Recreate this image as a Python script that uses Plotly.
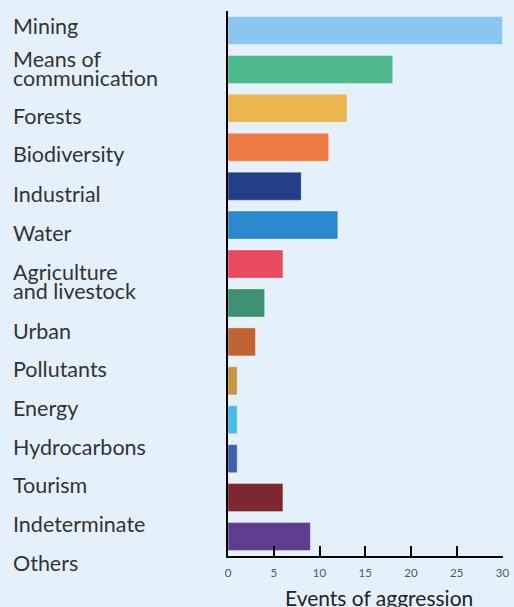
import plotly.graph_objects as go

categories = ["Mining", "Means of communication", "Forests", "Biodiversity", "Industrial",
              "Water", "Agriculture and livestock", "Urban", "Pollutants", "Energy",
              "Hydrocarbons", "Tourism", "Indeterminate", "Others"]
label_lines = [["Mining"], ["Means of", "communication"], ["Forests"], ["Biodiversity"],
               ["Industrial"], ["Water"], ["Agriculture", "and livestock"], ["Urban"],
               ["Pollutants"], ["Energy"], ["Hydrocarbons"], ["Tourism"],
               ["Indeterminate"], ["Others"]]
values = [30, 18, 13, 11, 8, 12, 6, 4, 3, 1, 1, 1, 6, 9]
colors = ["#8AC6F0", "#4FB98E", "#EBB54F", "#EC7A42", "#213E86", "#2A88CF", "#E9495F",
          "#3F9072", "#C06433", "#C4963E", "#45BCEB", "#3A60AE", "#7D2730", "#5C3D8E"]
x_ticks = [0, 5, 10, 15, 20, 25, 30]

# vertical offset (px, downward) of each label block relative to its bar centre
label_offsets = [-4, -1, 7.5, 7, 7.5, 7.5, 17.5, 28, 27, 27, 27, 26.5, 26.5, 26.5]
LINE_PITCH = 18.5

BG = "#E4F1FB"
FONT = "Lato, 'Open Sans', sans-serif"

fig = go.Figure(go.Bar(
    x=values, y=categories, orientation="h",
    marker=dict(color=colors, line=dict(width=1, color="rgba(255,255,255,0.35)")),
    hoverinfo="x+y",
))

annotations = []
for cat, lines, off in zip(categories, label_lines, label_offsets):
    n = len(lines)
    for i, line in enumerate(lines):
        dy = off + (i - (n - 1) / 2) * LINE_PITCH
        annotations.append(dict(
            x=0, xref="paper", xanchor="left", xshift=-216,
            y=cat, yref="y", yanchor="middle", yshift=-dy,
            text=line, showarrow=False, borderpad=0,
            font=dict(family=FONT, size=21.5, color="#333333"),
        ))

annotations.append(dict(
    x=0.5, xref="paper", xanchor="center", xshift=13,
    y=0, yref="paper", yanchor="middle", yshift=-41,
    text="Events of aggression", showarrow=False, borderpad=0,
    font=dict(family=FONT, size=21, color="#222222"),
))

fig.update_layout(
    width=514, height=607,
    margin=dict(l=228, r=11, t=11, b=51),
    paper_bgcolor=BG, plot_bgcolor=BG,
    showlegend=False,
    bargap=0.28,
    font=dict(family=FONT),
    annotations=annotations,
    xaxis=dict(
        range=[0, 30.05], tickvals=x_ticks, ticks="inside", ticklen=10, tickwidth=2,
        tickcolor="black", showline=True, linewidth=2, linecolor="black",
        showgrid=False, zeroline=False, ticklabelstandoff=5, automargin=False,
        tickfont=dict(family=FONT, size=11.5, color="#555555"),
        fixedrange=True,
    ),
    yaxis=dict(
        categoryorder="array", categoryarray=categories,
        range=[13.5, -0.5], showticklabels=False, ticks="", automargin=False,
        showline=True, linewidth=2, linecolor="black",
        showgrid=False, zeroline=False, fixedrange=True,
    ),
)

fig.write_html("out.html", config={"displayModeBar": False},
               post_script="document.body.style.margin='0';document.body.style.overflow='hidden';")
